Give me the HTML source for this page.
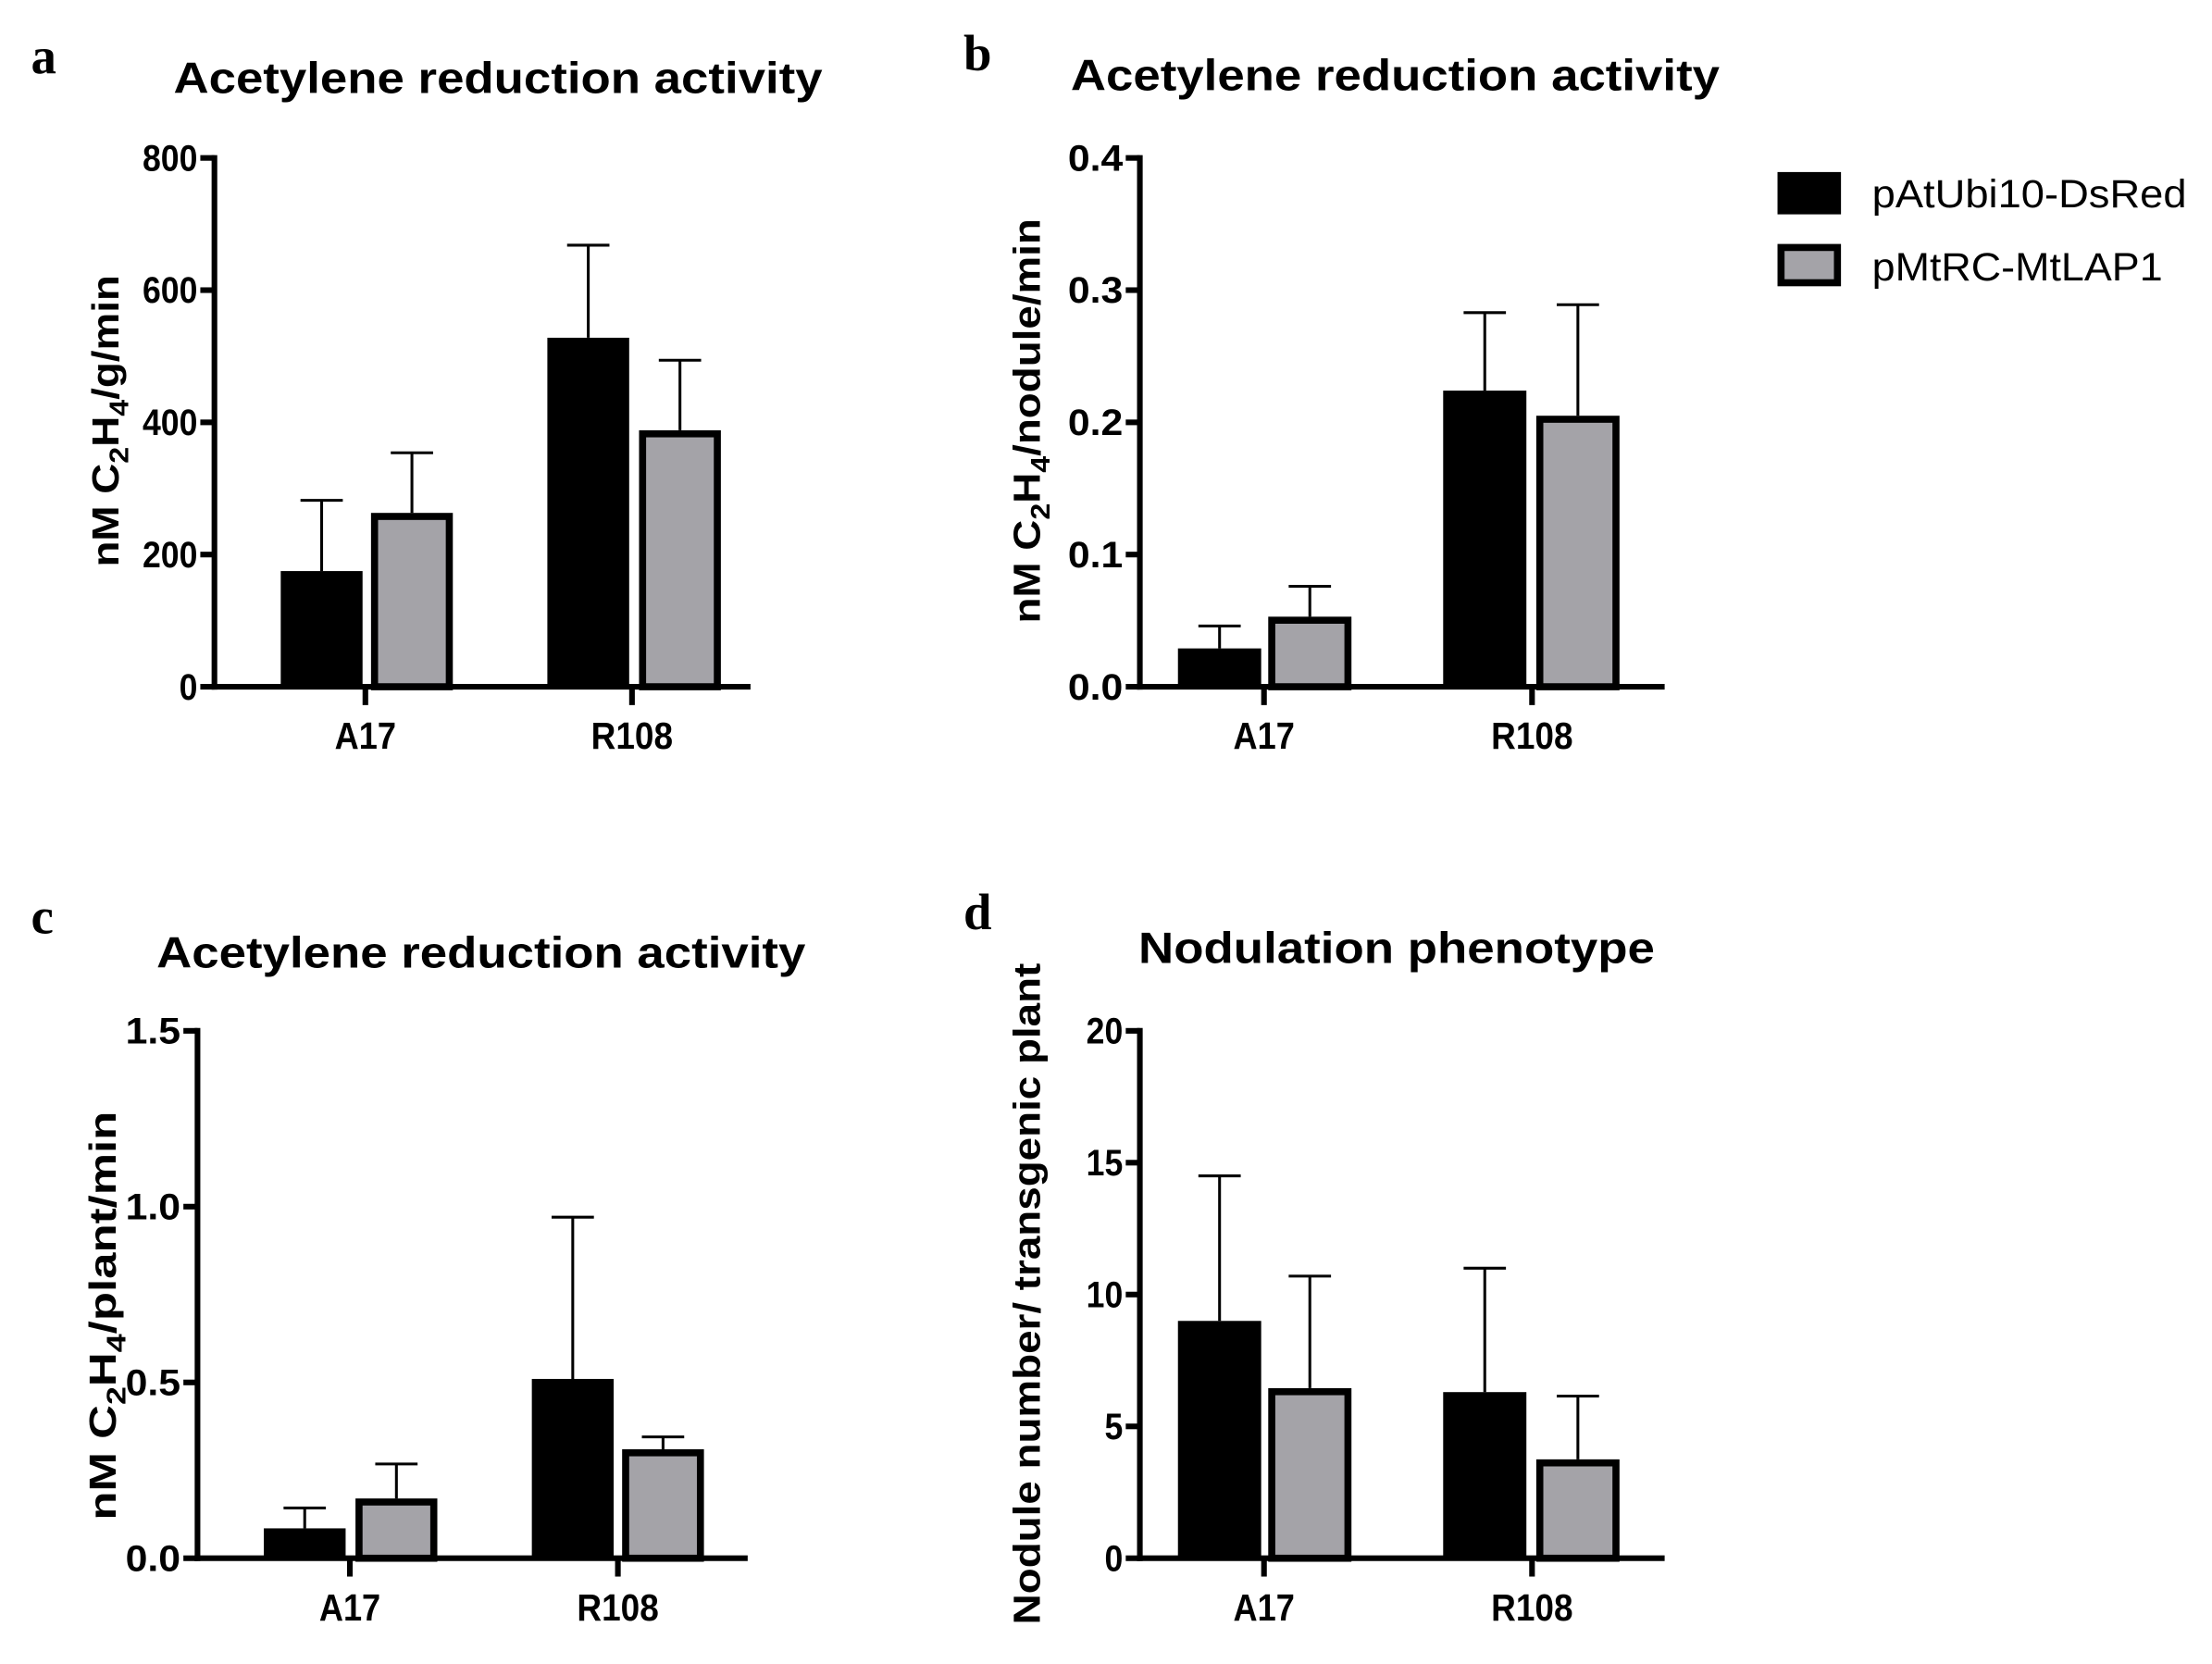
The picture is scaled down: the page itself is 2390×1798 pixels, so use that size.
<!DOCTYPE html>
<html><head><meta charset="utf-8">
<style>
html,body{margin:0;padding:0;background:#fff;}
svg{display:block;}
text{font-family:"Liberation Sans",Arial,sans-serif;}
text.serif{font-family:"Liberation Serif",serif;}
</style></head>
<body>
<svg id="fig" width="2390" height="1798" viewBox="0 0 1568 1180" preserveAspectRatio="none" xmlns="http://www.w3.org/2000/svg">
<g id="legend">
  <rect x="1260" y="122" width="45" height="30" fill="#000"/>
  <text x="1327" y="147" font-size="28" textLength="223" lengthAdjust="spacingAndGlyphs">pAtUbi10-DsRed</text>
  <rect x="1262.5" y="175.5" width="40" height="25" fill="#a4a3a8" stroke="#000" stroke-width="5"/>
  <text x="1327" y="199" font-size="28" textLength="206" lengthAdjust="spacingAndGlyphs">pMtRC-MtLAP1</text>
</g>
</svg>
<script>
// Shared categories / series names
const categories = ["A17", "R108"];
const seriesNames = ["pAtUbi10-DsRed", "pMtRC-MtLAP1"];
// Panel a
const aTicks = [0, 200, 400, 600, 800];
const aTickLabels = ["0", "200", "400", "600", "800"];
const aDsRed = [175, 528];
const aDsRedErr = [282, 668];
const aLap1 = [263, 388];
const aLap1Err = [354, 494];
// Panel b
const bTicks = [0, 0.1, 0.2, 0.3, 0.4];
const bTickLabels = ["0.0", "0.1", "0.2", "0.3", "0.4"];
const bDsRed = [0.029, 0.224];
const bDsRedErr = [0.046, 0.283];
const bLap1 = [0.053, 0.205];
const bLap1Err = [0.076, 0.289];
// Panel c
const cTicks = [0, 0.5, 1.0, 1.5];
const cTickLabels = ["0.0", "0.5", "1.0", "1.5"];
const cDsRed = [0.085, 0.51];
const cDsRedErr = [0.143, 0.97];
const cLap1 = [0.17, 0.31];
const cLap1Err = [0.268, 0.345];
// Panel d
const dTicks = [0, 5, 10, 15, 20];
const dTickLabels = ["0", "5", "10", "15", "20"];
const dDsRed = [9.0, 6.3];
const dDsRedErr = [14.5, 11.0];
const dLap1 = [6.45, 3.75];
const dLap1Err = [10.7, 6.15];

const NS = "http://www.w3.org/2000/svg";
const svg = document.getElementById("fig");
function mk(tag, attrs, parent) {
  const e = document.createElementNS(NS, tag);
  for (const k in attrs) e.setAttribute(k, attrs[k]);
  (parent || svg).appendChild(e);
  return e;
}

function drawPanel(p) {
  const g = mk("g", {});
  
  
  const ymax = p.ticks[p.ticks.length - 1];
  const y = v => p.y0 - (v / ymax) * (p.y0 - p.y1);
  // letter
  const L = mk("text", {x: p.lx, y: p.ly, "font-size": 36, "font-weight": "bold", "class": "serif"}, g);
  L.textContent = p.id;
  
  
  // title
  const T = mk("text", {x: p.tx, y: p.ty, "font-size": 31, "font-weight": "bold", "text-anchor": "middle", textLength: p.tw, lengthAdjust: "spacingAndGlyphs"}, g);
  T.textContent = p.title;
  
  
  // y axis title
  const yc = (p.yt0 + p.yt1) / 2;
  const YT = mk("text", {x: 0, y: 0, "font-size": 27, "font-weight": "bold", "text-anchor": "middle", transform: `translate(${p.ytx},${yc}) rotate(-90)`, textLength: p.yt1 - p.yt0, lengthAdjust: "spacingAndGlyphs"}, g);
  
  
  if (p.chem) {
    YT.innerHTML = 'nM C<tspan font-size="19" dy="7">2</tspan><tspan dy="-7">H</tspan><tspan font-size="19" dy="7">4</tspan><tspan dy="-7">' + p.chem + '</tspan>';
  } else YT.textContent = p.ytitle;
  // bars
  const series = [[p.s1, p.e1, "#000", 0], [p.s2, p.e2, "#a4a3a8", 1]];
  categories.forEach((c, i) => {
    series.forEach(([vals, errs, col, si]) => {
      const x0 = p.bx[i][si], w = p.bw;
      const top = y(vals[i]);
      const cx = x0 + w / 2;
      const el = mk("line", {x1: cx, x2: cx, y1: top, y2: y(errs[i]), stroke: "#000", "stroke-width": 2}, g);
      
      
      const cap = mk("line", {x1: cx - 15, x2: cx + 15, y1: y(errs[i]), y2: y(errs[i]), stroke: "#000", "stroke-width": 2}, g);
      
      
      let r;
      if (si === 0) {
        r = mk("rect", {x: x0, y: top, width: w, height: p.y0 - top, fill: col}, g);
      } else {
        r = mk("rect", {x: x0 + 2.5, y: top + 2.5, width: w - 5, height: Math.max(0, p.y0 - top - 2.5), fill: col, stroke: "#000", "stroke-width": 5}, g);
      }
      
      
    });
    const ct = mk("line", {x1: p.cx[i], x2: p.cx[i], y1: p.y0, y2: p.y0 + 13, stroke: "#000", "stroke-width": 4}, g);
    
    
    const cl = mk("text", {x: p.cx[i], y: p.y0 + 44, "font-size": 27, "font-weight": "bold", "text-anchor": "middle", textLength: c.length * 14.5, lengthAdjust: "spacingAndGlyphs"}, g);
    cl.textContent = c;
    
    
  });
  const ya = mk("line", {x1: p.ax, x2: p.ax, y1: p.y1 - 2, y2: p.y0 + 2, stroke: "#000", "stroke-width": 4}, g);
  
  
  const xa = mk("line", {x1: p.ax - 2, x2: p.xend, y1: p.y0, y2: p.y0, stroke: "#000", "stroke-width": 4}, g);
  
  
  p.ticks.forEach((t, k) => {
    const tl = mk("line", {x1: p.ax - 10, x2: p.ax, y1: y(t), y2: y(t), stroke: "#000", "stroke-width": 4}, g);
    
    
    const lab = p.tickLabels[k];
    const tx = mk("text", {x: p.ax - 12, y: y(t) + 9, "font-size": 26, "font-weight": "bold", "text-anchor": "end", textLength: lab.length * 13, lengthAdjust: "spacingAndGlyphs"}, g);
    tx.textContent = lab;
    
    
  });
}

drawPanel({id: "a", lx: 22, ly: 52, title: "Acetylene reduction activity", tx: 353, ty: 66, tw: 460,
  chem: "/g/min", ytx: 84, yt0: 195, yt1: 402,
  ax: 152, y0: 487, y1: 112, xend: 532, ticks: aTicks, tickLabels: aTickLabels,
  s1: aDsRed, e1: aDsRedErr, s2: aLap1, e2: aLap1Err, bw: 58,
  bx: [[199, 263], [388, 453]], cx: [259, 448]});
drawPanel({id: "b", lx: 683, ly: 50, title: "Acetylene reduction activity", tx: 989, ty: 64, tw: 460,
  chem: "/nodule/min", ytx: 737, yt0: 155, yt1: 442,
  ax: 808, y0: 487, y1: 112, xend: 1180, ticks: bTicks, tickLabels: bTickLabels,
  s1: bDsRed, e1: bDsRedErr, s2: bLap1, e2: bLap1Err, bw: 59,
  bx: [[835, 899], [1023, 1089]], cx: [896, 1086]});
drawPanel({id: "c", lx: 22, ly: 662, title: "Acetylene reduction activity", tx: 341, ty: 686, tw: 460,
  chem: "/plant/min", ytx: 82, yt0: 788, yt1: 1078,
  ax: 140, y0: 1105, y1: 731, xend: 530, ticks: cTicks, tickLabels: cTickLabels,
  s1: cDsRed, e1: cDsRedErr, s2: cLap1, e2: cLap1Err, bw: 58,
  bx: [[187, 252], [377, 441]], cx: [248, 438]});
drawPanel({id: "d", lx: 683, ly: 659, title: "Nodulation phenotype", tx: 990, ty: 683, tw: 366,
  ytitle: "Nodule number/ transgenic plant", ytx: 737, yt0: 683, yt1: 1152,
  ax: 808, y0: 1105, y1: 731, xend: 1180, ticks: dTicks, tickLabels: dTickLabels,
  s1: dDsRed, e1: dDsRedErr, s2: dLap1, e2: dLap1Err, bw: 59,
  bx: [[835, 899], [1023, 1089]], cx: [896, 1086]});
</script>
</body></html>
